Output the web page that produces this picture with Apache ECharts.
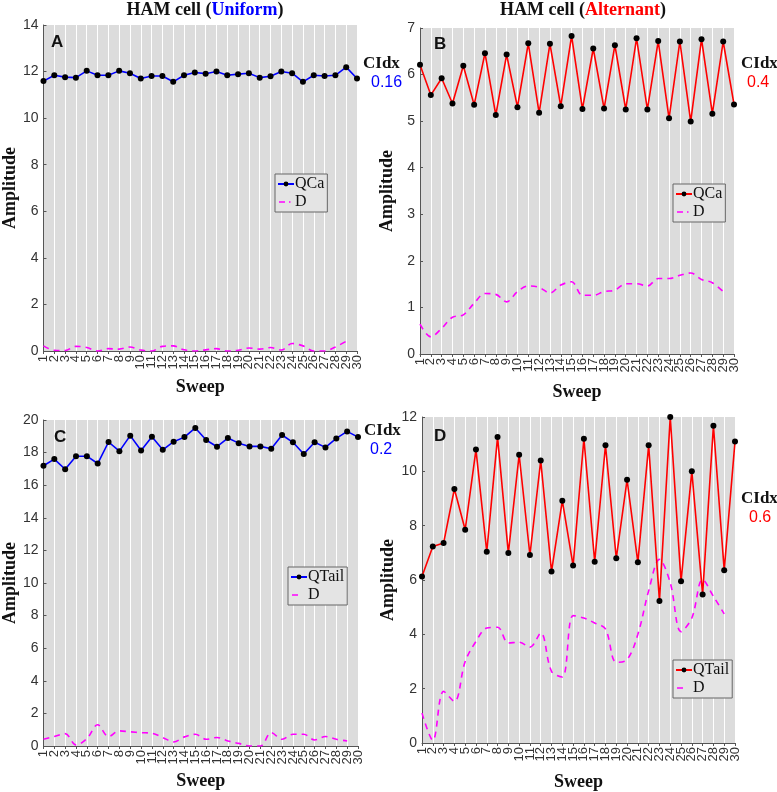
<!DOCTYPE html>
<html>
<head>
<meta charset="utf-8">
<script src="https://cdn.jsdelivr.net/npm/echarts@6/dist/echarts.min.js"></script>
<style>html,body{margin:0;padding:0;background:#fff}#c{width:777px;height:792px}</style>
</head>
<body>
<div id="c"></div>
<script>
const sweeps = Array.from({length: 30}, (_, i) => String(i + 1));

const qcaUniform = [11.59,11.84,11.76,11.74,12.03,11.84,11.84,12.03,11.93,11.70,11.81,11.81,11.56,11.84,11.96,11.91,12.00,11.84,11.89,11.93,11.74,11.80,12.00,11.93,11.56,11.84,11.81,11.84,12.19,11.70];
const dUniformA = [0.22,0.03,0.02,0.20,0.15,0.00,0.10,0.08,0.17,0.04,0.00,0.20,0.22,0.05,0.00,0.05,0.10,0.00,0.03,0.13,0.08,0.15,0.04,0.32,0.22,0.00,0.00,0.17,0.42];

const qcaAlternant = [6.21,5.56,5.92,5.38,6.19,5.35,6.46,5.13,6.43,5.30,6.67,5.18,6.66,5.32,6.83,5.26,6.56,5.27,6.63,5.25,6.78,5.25,6.72,5.06,6.71,4.99,6.76,5.16,6.71,5.36];
const dAlternantB = [0.64,0.37,0.55,0.79,0.84,1.09,1.30,1.28,1.12,1.34,1.46,1.43,1.31,1.48,1.55,1.26,1.26,1.34,1.37,1.51,1.51,1.46,1.62,1.62,1.69,1.74,1.60,1.53,1.34];

const qtailUniform = [17.19,17.60,16.98,17.78,17.78,17.33,18.65,18.09,19.04,18.13,18.97,18.17,18.67,18.95,19.51,18.77,18.36,18.89,18.58,18.38,18.38,18.24,19.08,18.63,17.91,18.63,18.32,18.87,19.30,18.95];
const dUniformC = [0.41,0.58,0.76,0.06,0.45,1.30,0.58,0.93,0.87,0.82,0.78,0.52,0.25,0.56,0.72,0.41,0.52,0.31,0.16,0.00,0.00,0.82,0.41,0.72,0.72,0.37,0.58,0.41,0.31];

const qtailAlternant = [6.13,7.23,7.36,9.35,7.85,10.80,7.04,11.26,6.99,10.61,6.92,10.40,6.31,8.92,6.53,11.20,6.67,10.96,6.80,9.69,6.65,10.96,5.23,12.00,5.95,10.00,5.47,11.68,6.36,11.10];
const dAlternantD = [1.10,0.10,1.90,1.53,3.00,3.74,4.23,4.26,3.68,3.71,3.53,4.05,2.64,2.43,4.69,4.60,4.42,4.20,2.97,3.07,4.00,5.60,6.76,5.90,4.10,4.60,6.02,5.40,4.75];

const yMax = [14, 7, 20, 12];
const yStep = [2, 1, 2, 2];

const grids = [
  {left: 42, top: 25, width: 315, height: 326},
  {left: 420, top: 28, width: 314, height: 326},
  {left: 42, top: 420, width: 316, height: 326},
  {left: 422, top: 417, width: 313, height: 326}
];
const sweepGap = [27, 29, 26, 30];

const serif = 'Liberation Serif';
const sans = 'Liberation Sans';

const xAxes = grids.map((g, i) => ({
  type: 'category', gridIndex: i, data: sweeps, boundaryGap: false,
  axisLine: {lineStyle: {color: '#555', width: 1}},
  axisTick: {show: true, length: 3, alignWithLabel: true, lineStyle: {color: '#555'}},
  axisLabel: {interval: 0, rotate: 90, fontFamily: sans, fontSize: 13, color: '#333', margin: 4},
  splitLine: {show: true, lineStyle: {color: '#ffffff', width: 1}},
  name: 'Sweep', nameLocation: 'middle', nameGap: sweepGap[i],
  nameTextStyle: {fontFamily: serif, fontWeight: 'bold', fontSize: 18, color: '#111'}
}));

const yAxes = grids.map((g, i) => ({
  type: 'value', gridIndex: i, min: 0, max: yMax[i], interval: yStep[i],
  axisLine: {show: true, lineStyle: {color: '#555', width: 1}},
  axisTick: {show: true, inside: true, length: 3, lineStyle: {color: '#555'}},
  axisLabel: {fontFamily: sans, fontSize: 14, color: '#333', margin: 5},
  splitLine: {show: false},
  name: 'Amplitude', nameLocation: 'middle', nameGap: 24, nameRotate: 90,
  nameTextStyle: {fontFamily: serif, fontWeight: 'bold', fontSize: 18, color: '#111'}
}));

function mainSeries(name, data, idx, color) {
  return {
    name: name, type: 'line', xAxisIndex: idx, yAxisIndex: idx, data: data,
    symbol: 'circle', symbolSize: 6, showSymbol: true,
    itemStyle: {color: '#000'}, lineStyle: {color: color, width: 1.6},
    emphasis: {disabled: true}, animation: false, z: 3
  };
}
function dSeries(name, data, idx) {
  return {
    name: name, type: 'line', xAxisIndex: idx, yAxisIndex: idx, data: data,
    symbol: 'none', smooth: 0.35,
    itemStyle: {color: '#ff00ff'}, lineStyle: {color: '#ff00ff', width: 1.6, type: [6, 5]},
    emphasis: {disabled: true}, animation: false, z: 2
  };
}

const series = [
  mainSeries('QCa|A', qcaUniform, 0, '#0000ff'), dSeries('D|A', dUniformA, 0),
  mainSeries('QCa|B', qcaAlternant, 1, '#ff0000'), dSeries('D|B', dAlternantB, 1),
  mainSeries('QTail|C', qtailUniform, 2, '#0000ff'), dSeries('D|C', dUniformC, 2),
  mainSeries('QTail|D', qtailAlternant, 3, '#ff0000'), dSeries('D|D', dAlternantD, 3)
];

const corners = ' M15.95,0 H16 V0.05 H15.95 Z M0,5.95 H0.05 V6 H0 Z';
const dashIcon = 'path://M1,2.2 H7 V3.8 H1 Z M11,2.2 H12.5 V3.8 H11 Z' + corners;
const dashIcon2 = 'path://M1,2.2 H7 V3.8 H1 Z' + corners;
const legendPos = [[275, 174, 'QCa|A', 'D|A', dashIcon], [673, 184, 'QCa|B', 'D|B', dashIcon], [288, 567, 'QTail|C', 'D|C', dashIcon2], [673, 660, 'QTail|D', 'D|D', dashIcon2]];
const legends = legendPos.map(p => ({
  left: p[0], top: p[1], orient: 'vertical',
  data: [{name: p[2]}, {name: p[3], icon: p[4], itemStyle: {color: '#ff00ff'}}],
  itemWidth: 16, itemHeight: 6, itemGap: 2, padding: [2, 3, 2, 2],
  backgroundColor: '#e4e4e4', borderColor: '#666', borderWidth: 1,
  formatter: n => n.split('|')[0], selectedMode: false,
  textStyle: {fontFamily: serif, fontSize: 16, color: '#111', padding: [0, 0, 0, -4]}
}));

const titles = [
  {text: 'HAM cell ({u|Uniform})', left: 200, c: '#0000ff'},
  {text: 'HAM cell ({u|Alternant})', left: 578, c: '#ff0000'}
].map(t => ({
  text: t.text, left: t.left, top: -4, textAlign: 'center',
  textStyle: {fontFamily: serif, fontWeight: 'bold', fontSize: 18, color: '#111',
    rich: {u: {fontFamily: serif, fontWeight: 'bold', fontSize: 18, color: t.c}}}
}));

const letters = [['A', 46, 29], ['B', 429, 31], ['C', 49, 424], ['D', 429, 423]].map(l => ({
  text: l[0], left: l[1], top: l[2],
  textStyle: {fontFamily: sans, fontWeight: 'bold', fontSize: 17, color: '#111'}
}));

const cidx = [['0.16', '#0000ff', 358, 50, 366], ['0.4', '#ff0000', 736, 50, 742], ['0.2', '#0000ff', 359, 417, 365], ['0.6', '#ff0000', 736, 485, 744]];
const cidxTitles = [];
cidx.forEach(c => {
  cidxTitles.push({text: 'CIdx', left: c[2], top: c[3], textStyle: {fontFamily: serif, fontWeight: 'bold', fontSize: 17, color: '#111'}});
  cidxTitles.push({text: c[0], left: c[4], top: c[3] + 20, textStyle: {fontFamily: sans, fontWeight: 'normal', fontSize: 16, color: c[1]}});
});

const chart = echarts.init(document.getElementById('c'), null, {renderer: 'canvas'});
chart.setOption({
  animation: false,
  backgroundColor: '#ffffff',
  title: titles.concat(letters, cidxTitles),
  grid: grids.map(g => Object.assign({show: true, backgroundColor: '#dcdcdc', borderWidth: 0, containLabel: false}, g)),
  xAxis: xAxes,
  yAxis: yAxes,
  legend: legends,
  series: series
});
</script>
</body>
</html>
